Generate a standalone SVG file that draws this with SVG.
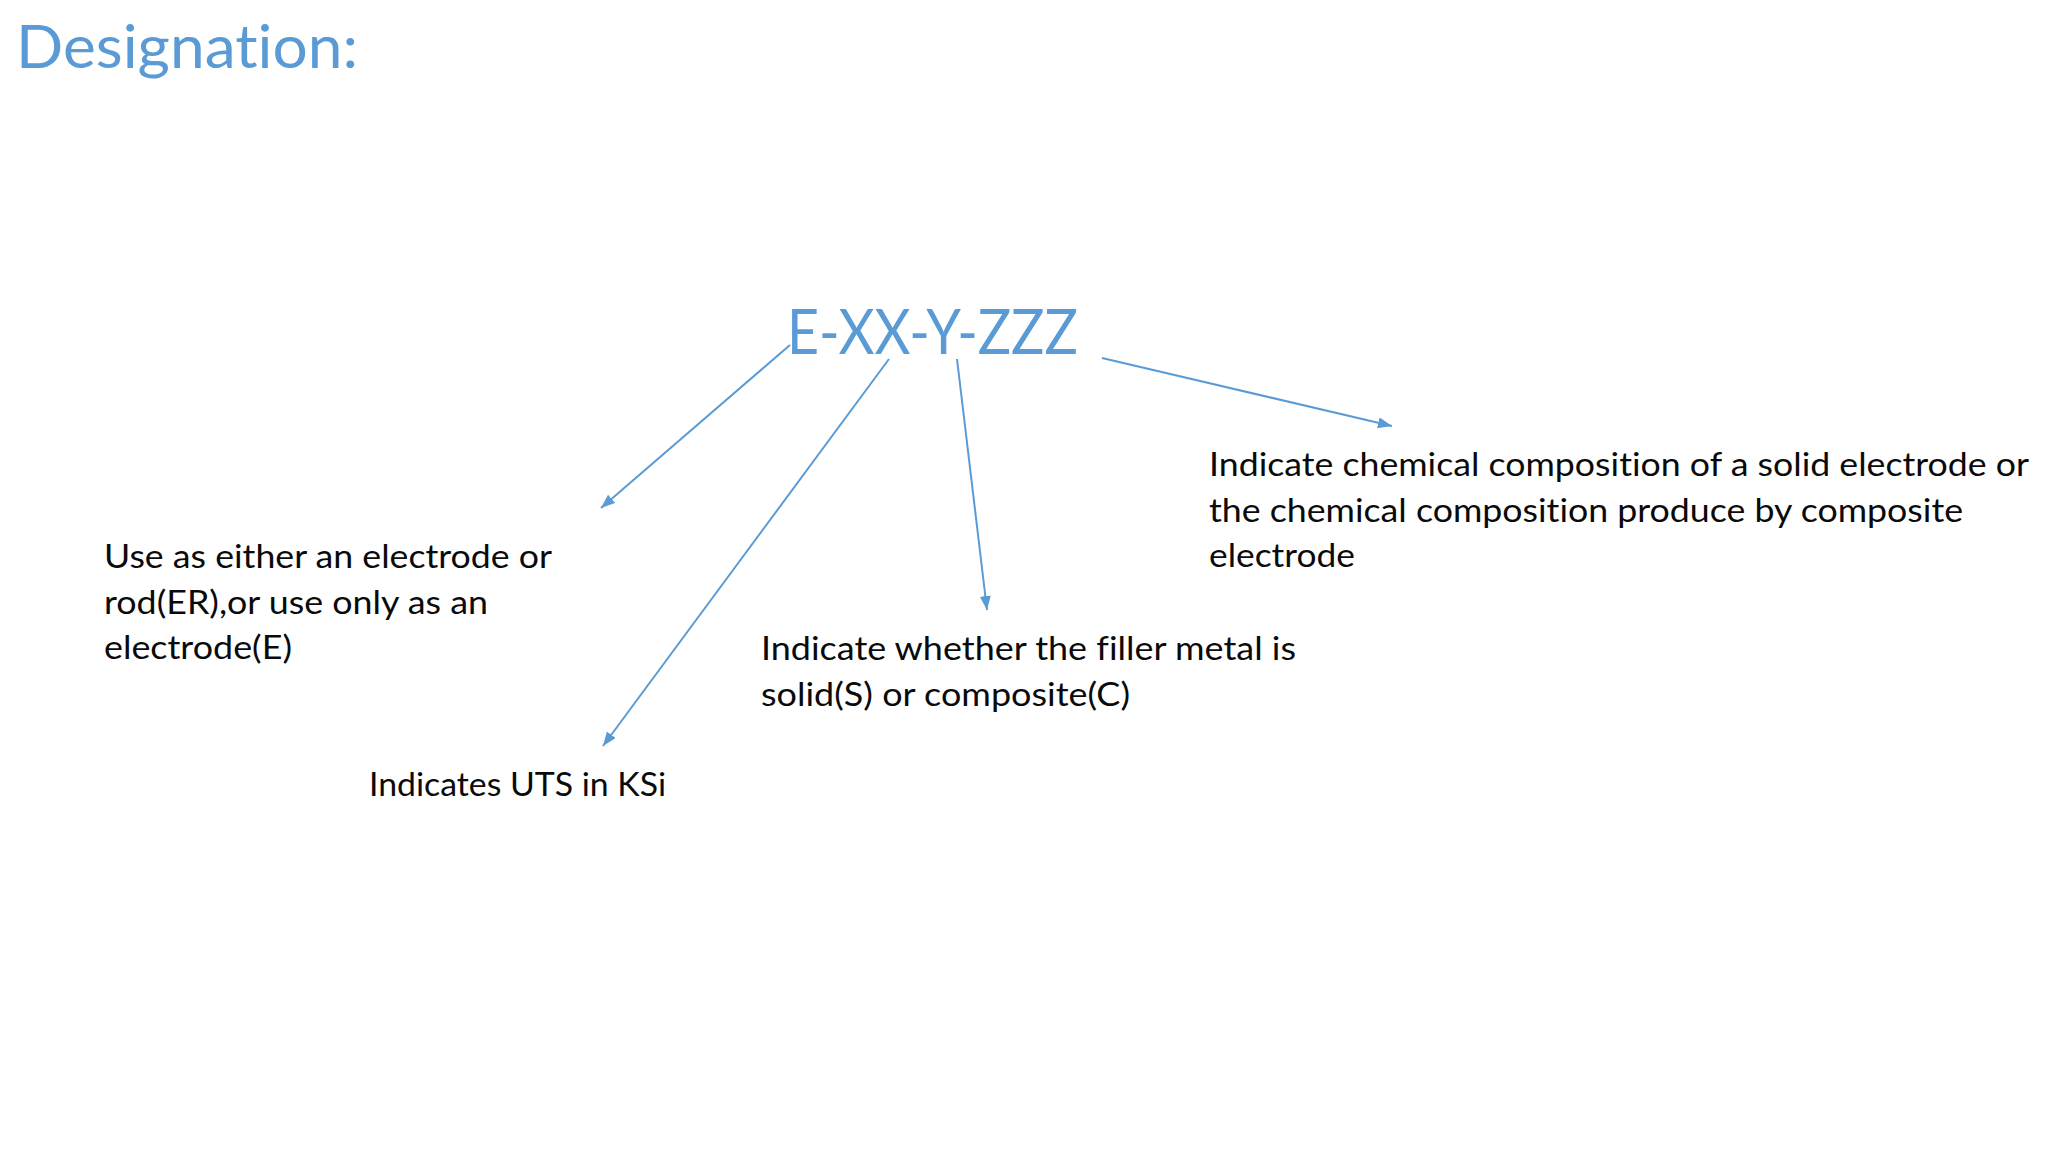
<svg xmlns="http://www.w3.org/2000/svg" width="2048" height="1152" viewBox="0 0 2048 1152">
<defs>
<style>
.title{font-family:Lato,"Open Sans","Liberation Sans",sans-serif;fill:#5B9BD5;font-variant-ligatures:none;font-feature-settings:"liga" 0,"clig" 0,"dlig" 0}
.body{font-family:Lato,"Open Sans","Liberation Sans",sans-serif;font-size:32px;fill:#0a0a0a;font-variant-ligatures:none;font-feature-settings:"liga" 0,"clig" 0,"dlig" 0}
.conn{stroke:#5B9BD5;stroke-width:2;fill:none}
</style>
<marker id="ah" markerUnits="userSpaceOnUse" markerWidth="16" markerHeight="12" refX="14" refY="5.5" orient="auto">
<path d="M0,0 L14,5.5 L0,11 z" fill="#5B9BD5"/>
</marker>
</defs>
<rect width="2048" height="1152" fill="#ffffff"/>
<g id="heading">
<text class="title" x="16" y="68" font-size="60" textLength="342" lengthAdjust="spacingAndGlyphs">Designation:</text>
</g>
<g id="code">
<text class="title" x="787" y="354" font-size="61" textLength="291" lengthAdjust="spacingAndGlyphs">E-XX-Y-ZZZ</text>
</g>
<g id="connectors">
<line class="conn" x1="790" y1="345" x2="601" y2="508" marker-end="url(#ah)"/>
<line class="conn" x1="889" y1="359" x2="603" y2="746" marker-end="url(#ah)"/>
<line class="conn" x1="957" y1="359" x2="987" y2="610" marker-end="url(#ah)"/>
<line class="conn" x1="1102" y1="358" x2="1392" y2="426" marker-end="url(#ah)"/>
</g>
<g id="node-e">
<text class="body" x="104" y="568" textLength="448" lengthAdjust="spacingAndGlyphs">Use as either an electrode or</text>
<text class="body" x="104" y="614" textLength="384" lengthAdjust="spacingAndGlyphs">rod(ER),or use only as an</text>
<text class="body" x="104" y="659" textLength="188" lengthAdjust="spacingAndGlyphs">electrode(E)</text>
</g>
<g id="node-xx">
<text class="body" x="369" y="796" textLength="297" lengthAdjust="spacingAndGlyphs">Indicates UTS in KSi</text>
</g>
<g id="node-y">
<text class="body" x="761" y="660" textLength="535" lengthAdjust="spacingAndGlyphs">Indicate whether the filler metal is</text>
<text class="body" x="761" y="706" textLength="369" lengthAdjust="spacingAndGlyphs">solid(S) or composite(C)</text>
</g>
<g id="node-zzz">
<text class="body" x="1209" y="476" textLength="820" lengthAdjust="spacingAndGlyphs">Indicate chemical composition of a solid electrode or</text>
<text class="body" x="1209" y="522" textLength="754" lengthAdjust="spacingAndGlyphs">the chemical composition produce by composite</text>
<text class="body" x="1209" y="567" textLength="146" lengthAdjust="spacingAndGlyphs">electrode</text>
</g>
</svg>
